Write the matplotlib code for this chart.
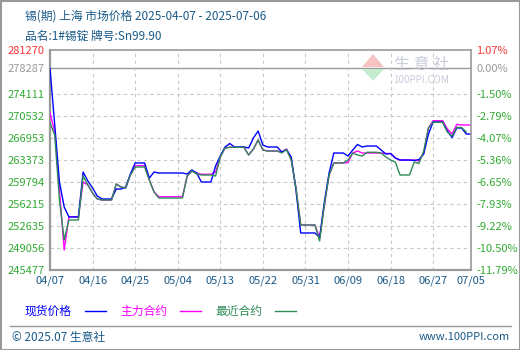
import matplotlib
matplotlib.use("Agg")
import matplotlib.pyplot as plt
from matplotlib.patches import Polygon
import pandas as pd

plt.rcParams['font.family'] = ['Noto Sans CJK SC', 'DejaVu Sans']

# daily values, 2025-04-07 onwards (weekends/holidays carry the last price)
spot = [278287, 269070, 259790, 255730, 254100, 254100, 254100, 261420, 259960, 258820,
        257520, 257030, 257030, 257030, 258650, 258650, 258980, 261100, 262890, 262890,
        262890, 260440, 261420, 261260, 261260, 261260, 261260, 261260, 261260, 261100,
        261750, 261260, 259790, 259790, 259790, 262400, 264020, 265490, 266060, 265490,
        265490, 265490, 265330, 266950, 268090, 265810, 265490, 265490, 265490, 264680,
        265080, 263860, 258490, 251500, 251500, 251500, 251500, 250760, 256540, 261260,
        264510, 264510, 264510, 264020, 265000, 265900, 265490, 265650, 265650, 265650,
        265000, 264350, 264430, 263700, 263370, 263370, 263370, 263290, 263450, 264350,
        267600, 269560, 269560, 269560, 268090, 267030, 268580, 268580, 267600, 267600]
main = [271020, 267930, 258490, 248730, 254150, 254150, 254150, 259790, 259310, 258000,
        257030, 256870, 256870, 256870, 259470, 258980, 258820, 260930, 262450, 262450,
        262450, 260120, 258170, 257400, 257400, 257400, 257400, 257400, 257400, 260770,
        261580, 261260, 261050, 261050, 261050, 261420, 263860, 265330, 265440, 265440,
        265440, 265440, 264190, 265160, 266630, 265000, 264840, 264840, 264840, 264680,
        265160, 263370, 258820, 252800, 252800, 252800, 252800, 250680, 256050, 260930,
        262890, 262890, 262890, 262970, 264510, 264840, 264510, 264510, 264510, 264510,
        264510, 264430, 264430, 263700, 263370, 263370, 263370, 263370, 263210, 264510,
        268580, 269770, 269770, 269770, 268420, 267600, 269180, 269070, 269070, 269070]
near = [269390, 267440, 256870, 250360, 253610, 253610, 253610, 260770, 259310, 258000,
        257030, 256870, 256870, 256870, 259470, 258980, 258820, 260930, 262230, 262230,
        262230, 260120, 258170, 257190, 257190, 257190, 257190, 257190, 257190, 260770,
        261580, 261100, 260930, 260930, 260930, 260770, 263860, 265330, 265440, 265440,
        265440, 265440, 264190, 265160, 266630, 265000, 264840, 264840, 264840, 264510,
        265080, 263370, 258820, 252800, 252800, 252800, 252800, 250190, 256050, 260930,
        262890, 262890, 262890, 263370, 264510, 264190, 264020, 264630, 264630, 264630,
        264510, 263860, 263370, 263050, 260930, 260930, 260930, 263050, 262800, 264840,
        268580, 269510, 269510, 269510, 267930, 267280, 268690, 268660, 267930]

yticks = [245477, 249056, 252635, 256215, 259794, 263373, 266953, 270532, 274111, 278287, 281270]
pct_labels = ['-11.79%', '-10.50%', '-9.22%', '-7.93%', '-6.65%', '-5.36%', '-4.07%',
              '-2.79%', '-1.50%', '0.00%', '1.07%']
xtick_labels = ['04/07', '04/16', '04/25', '05/04', '05/13', '05/22', '05/31',
                '06/09', '06/18', '06/27', '07/05']
base = 278287

dates = pd.date_range("2025-04-07", periods=90, freq="D")
xticks = [pd.Timestamp("2025-" + s.replace("/", "-")) for s in xtick_labels]

GREEN_T = '#33aa33'
TXT = '#1a5a88'
W, H = 520.0, 350.0


def fx(x):
    return x / W


def fy(y):
    return 1 - y / H


fig = plt.figure(figsize=(5.2, 3.5), dpi=100)
ax = fig.add_axes([fx(50), fy(270), 421/W, 220/H])

# grid
for y in yticks[:-1]:
    if y == base:
        ax.axhline(y, color='#999999', lw=1.0, zorder=1)
    else:
        ax.axhline(y, color='#c8c8c8', lw=0.8, ls=(0, (3, 3)), zorder=1)
for xt in xticks[1:-1]:
    ax.axvline(xt, color='#c8c8c8', lw=0.8, ls=(0, (3, 3)), zorder=1)

# watermark
fig.add_artist(Polygon([(fx(362), fy(67)), (fx(384), fy(67)), (fx(373), fy(54))],
                       closed=True, facecolor='#f6c4c0', edgecolor='none',
                       transform=fig.transFigure, zorder=0.5))
fig.add_artist(Polygon([(fx(362), fy(69)), (fx(384), fy(69)), (fx(373), fy(81))],
                       closed=True, facecolor='#c6ebcf', edgecolor='none',
                       transform=fig.transFigure, zorder=0.5))
fig.text(fx(422), fy(64), '生 意 社', color='#c9cdda', fontsize=11.5, ha='center', va='center')
fig.text(fx(421), fy(80), '100PPI.COM', color='#c9cdda', fontsize=7, ha='center', va='center')

ax.plot(dates[:len(main)], main, color='#ff00ff', lw=1.0, zorder=3)
ax.plot(dates[:len(spot)], spot, color='#0000ff', lw=1.0, zorder=4)
ax.plot(dates[:len(near)], near, color='#2e8b57', lw=1.0, zorder=5)

ax.set_xlim(dates[0], dates[89])
ax.set_ylim(245477, 281270)
ax.set_yticks(yticks)
ax.set_yticklabels([str(v) for v in yticks], fontsize=8)
ax.set_xticks(xticks)
ax.set_xticklabels(xtick_labels, fontsize=8, color=TXT)
ax.tick_params(length=0, pad=4)
for lab in ax.get_yticklabels():
    lab.set_color(GREEN_T)
ax.get_yticklabels()[-1].set_color('#ff3333')
ax.get_yticklabels()[-2].set_color('#999999')
for s in ax.spines.values():
    s.set_color('#999999')
    s.set_linewidth(1.2)
ax.spines['left'].set_linewidth(1.6)
ax.spines['bottom'].set_linewidth(1.6)
ax.spines['right'].set_visible(False)

ax2 = ax.twinx()
ax2.set_ylim(245477, 281270)
ax2.set_yticks(yticks)
ax2.set_yticklabels(pct_labels, fontsize=8)
ax2.tick_params(length=0, pad=4)
for lab in ax2.get_yticklabels():
    lab.set_color(GREEN_T)
ax2.get_yticklabels()[-1].set_color('#ff3333')
ax2.get_yticklabels()[-2].set_color('#999999')
for s in ax2.spines.values():
    s.set_visible(False)
ax2.spines['right'].set_visible(True)
ax2.spines['right'].set_color('#999999')
ax2.spines['right'].set_linewidth(1.2)

# titles
fig.text(fx(25), fy(16), '锡(期) 上海 市场价格 2025-04-07 - 2025-07-06', color=TXT,
         fontsize=8.5, va='center')
fig.text(fx(25), fy(36), '品名:1#锡锭 牌号:Sn99.90', color=TXT, fontsize=8.5, va='center')

# legend
leg = [('现货价格', '#0000ff', 25, 85), ('主力合约', '#ff00ff', 120, 180),
       ('最近合约', '#2e8b57', 215, 275)]
for name, c, tx, lx in leg:
    fig.text(fx(tx), fy(311), name, color=c, fontsize=8.5, va='center')
    fig.add_artist(plt.Line2D([fx(lx), fx(lx + 21)], [fy(311), fy(311)], color=c, lw=1.0))

# footer
fig.add_artist(plt.Line2D([fx(10), fx(511)], [fy(326), fy(326)], color='#999999', lw=1.0))
fig.text(fx(12), fy(337), '© 2025.07 生意社', color=TXT, fontsize=8.5, va='center')
fig.text(fx(510), fy(337), 'www.100PPI.com', color=TXT, fontsize=8, va='center', ha='right')

# outer border
fig.add_artist(plt.Rectangle((0.5/W, 0.5/H), 519/W, 349/H, fill=False,
                             edgecolor='#999999', lw=1.5, transform=fig.transFigure))

fig.savefig('out.png', dpi=100)
